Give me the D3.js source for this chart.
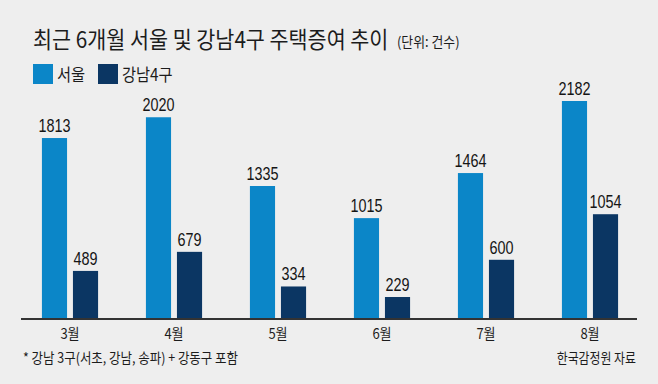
<!DOCTYPE html>
<html>
<head>
<meta charset="utf-8">
<script src="https://cdn.jsdelivr.net/npm/d3@7"></script>
<style>
  body { margin: 0; background: #eeeeee; }
  svg { display: block; }
  .kr { font-family: "Noto Sans CJK KR", sans-serif; fill: #1c1c1c; }
  .num { font-family: "Liberation Sans", Arial, sans-serif; fill: #151515; }
</style>
</head>
<body>
<div id="chart"></div>
<script>
var months = ['3월', '4월', '5월', '6월', '7월', '8월'];
var seriesNames = ['서울', '강남4구'];
var seoul = [1813, 2020, 1335, 1015, 1464, 2182];
var gangnam = [489, 679, 334, 229, 600, 1054];
var colors = ['#0b86c8', '#0b3663'];

var width = 658, height = 384;

var svg = d3.select('#chart').append('svg')
	.attr('width', width)
	.attr('height', height);

svg.append('rect')
	.attr('width', width)
	.attr('height', height)
	.attr('fill', '#eeeeee');

// squeeze text horizontally around its x (the original uses a condensed face)
function narrow(sel, k) {
	sel.attr('transform', function() {
		var x = +this.getAttribute('x') || 0;
		return 'translate(' + x + ',0) scale(' + k + ',1) translate(' + (-x) + ',0)';
	});
}

var x0 = d3.scaleBand()
	.domain(months)
	.range([18, 642])
	.paddingInner(0.46)
	.paddingOuter(0.23);

var x1 = d3.scaleBand()
	.domain(seriesNames)
	.range([0, x0.bandwidth()])
	.paddingInner(0.19);

var y = d3.scaleLinear()
	.domain([0, d3.max(seoul)])
	.range([320, 101]);

var rows = months.map(function(m, i) {
	return { month: m, values: [
		{ key: seriesNames[0], value: seoul[i] },
		{ key: seriesNames[1], value: gangnam[i] }
	]};
});

var groups = svg.append('g').selectAll('g')
	.data(rows)
	.join('g')
	.attr('transform', function(d) { return 'translate(' + x0(d.month) + ',0)'; });

groups.selectAll('rect')
	.data(function(d) { return d.values; })
	.join('rect')
	.attr('x', function(d) { return x1(d.key); })
	.attr('y', function(d) { return y(d.value); })
	.attr('width', x1.bandwidth())
	.attr('height', function(d) { return y(0) - y(d.value); })
	.attr('fill', function(d, i) { return colors[i]; });

groups.selectAll('text')
	.data(function(d) { return d.values; })
	.join('text')
	.attr('class', 'num')
	.attr('x', function(d) { return x1(d.key) + x1.bandwidth() / 2; })
	.attr('y', function(d) { return y(d.value) - 6; })
	.attr('text-anchor', 'middle')
	.attr('font-size', 18)
	.text(function(d) { return d.value; })
	.call(narrow, 0.8);

// baseline
svg.append('line')
	.attr('x1', 21).attr('x2', 637)
	.attr('y1', 319).attr('y2', 319)
	.attr('stroke', '#333')
	.attr('stroke-width', 2);

// month labels
var xAxis = svg.append('g')
	.attr('transform', 'translate(0,320)')
	.call(d3.axisBottom(x0).tickSize(0).tickPadding(0));
xAxis.select('.domain').remove();
xAxis.selectAll('text')
	.attr('class', 'kr')
	.attr('font-size', 15)
	.attr('dy', null)
	.attr('y', 19)
	.call(narrow, 0.87);

// title
svg.append('text')
	.attr('class', 'kr')
	.attr('x', 33).attr('y', 48)
	.attr('font-size', 23)
	.text('최근 6개월 서울 및 강남4구 주택증여 추이')
	.call(narrow, 0.9);

svg.append('text')
	.attr('class', 'kr')
	.attr('x', 397).attr('y', 47)
	.attr('font-size', 14)
	.text('(단위: 건수)')
	.call(narrow, 0.92);

// legend
var legendX = [33, 98];
var legend = svg.append('g').selectAll('g')
	.data(seriesNames)
	.join('g')
	.attr('transform', function(d, i) { return 'translate(' + legendX[i] + ',64)'; });
legend.append('rect')
	.attr('width', 20).attr('height', 20)
	.attr('fill', function(d, i) { return colors[i]; });
legend.append('text')
	.attr('class', 'kr')
	.attr('x', 24).attr('y', 16.5)
	.attr('font-size', 17)
	.text(function(d) { return d; })
	.call(narrow, 0.9);

// footnotes
svg.append('text')
	.attr('class', 'kr')
	.attr('x', 23).attr('y', 363)
	.attr('font-size', 14)
	.text('* 강남 3구(서초, 강남, 송파) + 강동구 포함')
	.call(narrow, 0.89);

svg.append('text')
	.attr('class', 'kr')
	.attr('x', 636).attr('y', 363)
	.attr('text-anchor', 'end')
	.attr('font-size', 14)
	.text('한국감정원 자료')
	.call(narrow, 0.85);
</script>
</body>
</html>
